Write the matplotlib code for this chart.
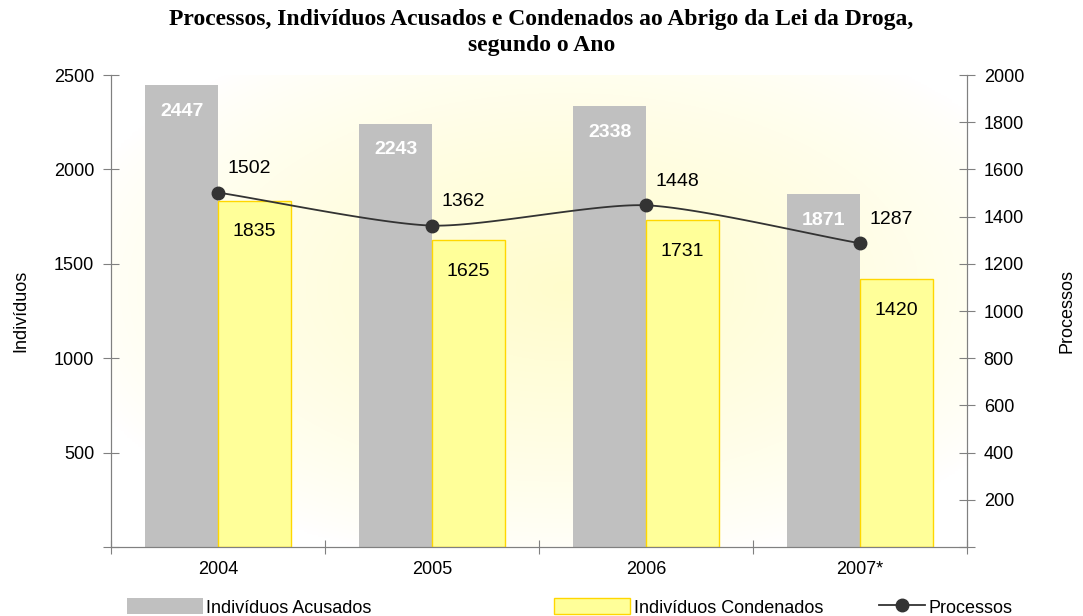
import numpy as np
import matplotlib.pyplot as plt
from matplotlib.patches import Patch
from matplotlib.lines import Line2D

years = ['2004', '2005', '2006', '2007*']
acusados = [2447, 2243, 2338, 1871]
condenados = [1835, 1625, 1731, 1420]
processos = [1502, 1362, 1448, 1287]

plt.rcParams['font.family'] = ['Liberation Sans', 'DejaVu Sans']

fig = plt.figure(figsize=(10.83, 6.16), dpi=100)
ax = fig.add_axes([0.1025, 0.112, 0.7904, 0.7662])
ax2 = ax.twinx()

# soft yellow glow behind the bars
gx, gy = np.meshgrid(np.linspace(0, 1, 300), np.linspace(0, 1, 300))
r = np.sqrt(((gx - 0.53) / 0.6) ** 2 + ((gy - 0.55) / 0.6) ** 2)
glow = np.clip(1 - r, 0, 1) ** 0.8
img = np.ones((300, 300, 3))
img[..., 2] = 1 - 0.2 * glow
img[..., 1] = 1 - 0.01 * glow
ax.imshow(img, extent=[-0.5, 3.5, 0, 2500], origin='lower', aspect='auto', zorder=0)

x = np.arange(len(years))
w = 0.34
ax.bar(x - w / 2, acusados, width=w, color='#C0C0C0', zorder=2)
ax.bar(x + w / 2, condenados, width=w, color='#FFFF99', edgecolor='#FFD700', linewidth=1, zorder=2)

for xi, v in zip(x, acusados):
    ax.text(xi - w / 2, v - 140, str(v), ha='center', va='center', color='white',
            fontsize=14, fontweight='bold', zorder=3)
for xi, v in zip(x, condenados):
    ax.text(xi + w / 2, v - 165, str(v), ha='center', va='center', color='black',
            fontsize=14, zorder=3)

# smoothed line (low-tension cardinal spline through the points)
def smooth(xs, ys, n=40, k=0.35):
    px = np.concatenate([[2 * xs[0] - xs[1]], xs, [2 * xs[-1] - xs[-2]]])
    py = np.concatenate([[2 * ys[0] - ys[1]], ys, [2 * ys[-1] - ys[-2]]])
    ox, oy = [], []
    t = np.linspace(0, 1, n)
    h00 = 2 * t ** 3 - 3 * t ** 2 + 1
    h10 = t ** 3 - 2 * t ** 2 + t
    h01 = -2 * t ** 3 + 3 * t ** 2
    h11 = t ** 3 - t ** 2
    for i in range(1, len(px) - 2):
        for p, o in ((px, ox), (py, oy)):
            m1 = k * (p[i + 1] - p[i - 1])
            m2 = k * (p[i + 2] - p[i])
            o.extend(h00 * p[i] + h10 * m1 + h01 * p[i + 1] + h11 * m2)
    return np.array(ox), np.array(oy)

sx, sy = smooth(x.astype(float), np.array(processos, dtype=float))
ax2.plot(sx, sy, color='#333333', linewidth=1.3, zorder=4)
ax2.plot(x, processos, 'o', color='#333333', markersize=9, zorder=5)
for xi, v in zip(x, processos):
    ax2.text(xi + 0.045, v + 100, str(v), ha='left', va='center', fontsize=14)

ax.set_xlim(-0.5, 3.5)
ax.set_ylim(0, 2500)
ax2.set_ylim(0, 2000)

ax.set_yticks(np.arange(0, 2501, 500))
ax.set_yticklabels([''] + [str(v) for v in range(500, 2501, 500)])
ax2.set_yticks(np.arange(0, 2001, 200))
ax2.set_yticklabels([''] + [str(v) for v in range(200, 2001, 200)])

ax.set_xticks(np.arange(-0.5, 4, 1))
ax.set_xticklabels([])
ax.set_xticks(x, minor=True)
ax.set_xticklabels(years, minor=True)
ax.tick_params(axis='x', which='minor', length=0, pad=10, labelsize=13)
ax.tick_params(axis='x', which='major', direction='inout', length=10, color='#808080')
ax.tick_params(axis='y', direction='inout', length=12, color='#808080', labelsize=13, pad=6)
ax2.tick_params(axis='y', direction='inout', length=12, color='#808080', labelsize=13, pad=6)

for a in (ax, ax2):
    a.spines['top'].set_visible(False)
    for s in ('left', 'right', 'bottom'):
        a.spines[s].set_color('#808080')

ax.set_ylabel('Indivíduos', fontsize=13, labelpad=18)
ax2.set_ylabel('Processos', fontsize=13, rotation=90, labelpad=25)

fig.text(0.5, 0.985, 'Processos, Indivíduos Acusados e Condenados ao Abrigo da Lei da Droga,\nsegundo o Ano',
         ha='center', va='top', fontsize=17, fontweight='bold', family='Liberation Serif', linespacing=1.3)

handles = [Patch(facecolor='#C0C0C0', edgecolor='none'),
           Patch(facecolor='#FFFF99', edgecolor='#FFD700'),
           Line2D([], [], color='#333333', marker='o', markersize=9, linewidth=1.3)]
labels = ['Indivíduos Acusados', 'Indivíduos Condenados', 'Processos']
xs_leg = [0.117, 0.512, 0.812]
hl = [4.2, 4.2, 2.5]
for h, l, xl, L in zip(handles, labels, xs_leg, hl):
    fig.legend([h], [l], loc='center left', bbox_to_anchor=(xl, 0.014), frameon=False,
               fontsize=13, handlelength=L, handleheight=1.0, handletextpad=0.2,
               borderpad=0, borderaxespad=0)

fig.savefig('out.png', dpi=100)
